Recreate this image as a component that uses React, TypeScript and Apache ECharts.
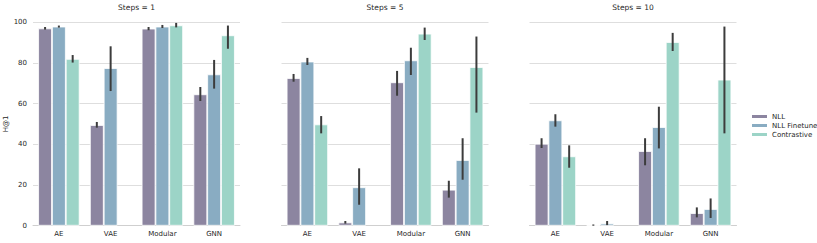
import React, { useEffect, useRef } from "react";
import * as echarts from "echarts";

const categories = ["AE", "VAE", "Modular", "GNN"];
const methods = ["NLL", "NLL Finetune", "Contrastive"];
const panelTitles = ["Steps = 1", "Steps = 5", "Steps = 10"];
const yTicks = [0, 20, 40, 60, 80, 100];

// Steps = 1
const nll1 = [97.0, 49.5, 96.9, 64.6];
const nll1Lo = [96.4, 48.2, 96.1, 61.3];
const nll1Hi = [97.7, 51.0, 97.7, 68.2];
const ft1 = [97.9, 77.5, 97.9, 74.4];
const ft1Lo = [97.4, 66.2, 97.2, 67.4];
const ft1Hi = [98.4, 88.2, 98.7, 81.5];
const con1 = [82.0, null, 98.5, 93.6];
const con1Lo = [80.2, null, 97.5, 87.0];
const con1Hi = [83.9, null, 99.7, 98.4];

// Steps = 5
const nll5 = [72.6, 1.6, 70.5, 17.7];
const nll5Lo = [70.8, 1.0, 63.9, 13.8];
const nll5Hi = [74.6, 2.3, 76.1, 22.1];
const ft5 = [80.7, 18.9, 81.3, 32.3];
const ft5Lo = [79.0, 10.3, 74.1, 22.6];
const ft5Hi = [82.5, 28.2, 87.5, 43.0];
const con5 = [49.8, null, 94.4, 78.0];
const con5Lo = [45.4, null, 91.3, 55.6];
const con5Hi = [53.9, null, 97.4, 93.0];

// Steps = 10
const nll10 = [40.3, 0.3, 36.7, 6.2];
const nll10Lo = [38.2, 0.0, 29.7, 4.1];
const nll10Hi = [43.0, 0.6, 43.0, 9.0];
const ft10 = [51.8, 1.1, 48.5, 8.2];
const ft10Lo = [48.7, 0.3, 38.0, 3.8];
const ft10Hi = [54.8, 2.3, 58.5, 13.4];
const con10 = [34.1, null, 90.3, 71.8];
const con10Lo = [28.5, null, 85.9, 45.4];
const con10Hi = [39.5, null, 94.8, 97.9];

const panels = [
  { means: [nll1, ft1, con1], lows: [nll1Lo, ft1Lo, con1Lo], highs: [nll1Hi, ft1Hi, con1Hi] },
  { means: [nll5, ft5, con5], lows: [nll5Lo, ft5Lo, con5Lo], highs: [nll5Hi, ft5Hi, con5Hi] },
  { means: [nll10, ft10, con10], lows: [nll10Lo, ft10Lo, con10Lo], highs: [nll10Hi, ft10Hi, con10Hi] },
];

const colors = ["#8c85a0", "#89acc2", "#9cd4c7"];
const FONT = "DejaVu Sans";
const gridLefts = [33, 281.5, 529.5];
const gridWidth = 207;
const gridTop = 22.3;
const gridHeight = 203.4;

export default function App() {
  const ref = useRef<HTMLDivElement>(null);

  useEffect(() => {
    if (!ref.current) return;
    const chart = echarts.init(ref.current, null, { renderer: "svg" });

    const grids = gridLefts.map((l) => ({ left: l, top: gridTop, width: gridWidth, height: gridHeight }));
    const xAxes = gridLefts.map((_, i) => ({
      type: "category",
      gridIndex: i,
      data: categories,
      axisLine: { show: true, lineStyle: { color: "#cfcfcf", width: 1 } },
      axisTick: { show: false },
      axisLabel: { color: "#262626", fontSize: 7, fontFamily: FONT, margin: 5 },
      splitLine: { show: false },
    }));
    const yAxes = gridLefts.map((_, i) => ({
      type: "value",
      gridIndex: i,
      min: yTicks[0],
      max: yTicks[yTicks.length - 1],
      interval: 20,
      name: i === 0 ? "H@1" : "",
      nameLocation: "middle",
      nameGap: 16,
      nameRotate: 90,
      nameTextStyle: { color: "#262626", fontSize: 7, fontFamily: FONT },
      axisLine: { show: false },
      axisTick: { show: false },
      axisLabel: { show: i === 0, color: "#262626", fontSize: 7, fontFamily: FONT, margin: 6 },
      splitLine: { show: true, lineStyle: { color: "#dedede", width: 1 } },
    }));

    const series: any[] = [];
    panels.forEach((p, gi) => {
      methods.forEach((m, mi) => {
        series.push({
          type: "bar",
          name: m,
          xAxisIndex: gi,
          yAxisIndex: gi,
          data: p.means[mi].map((v) => (v === null ? "-" : v)),
          barGap: "0%",
          barCategoryGap: "20%",
          itemStyle: { color: colors[mi], borderColor: "#ffffff", borderWidth: 0.8 },
          z: 2,
        });
      });
      const errData: any[] = [];
      methods.forEach((_, mi) => {
        categories.forEach((_, ci) => {
          const lo = p.lows[mi][ci];
          const hi = p.highs[mi][ci];
          if (lo !== null && hi !== null) errData.push([ci, mi, lo, hi]);
        });
      });
      series.push({
        type: "custom",
        name: "err",
        xAxisIndex: gi,
        yAxisIndex: gi,
        data: errData,
        encode: { x: 0, y: [2, 3] },
        z: 5,
        silent: true,
        renderItem: (params: any, api: any) => {
          const ci = api.value(0);
          const mi = api.value(1);
          const band = api.size([1, 0])[0];
          const bw = (band * 0.8) / 3;
          const c = api.coord([ci, api.value(2)]);
          const d = api.coord([ci, api.value(3)]);
          const x = c[0] + (mi - 1) * bw;
          return {
            type: "line",
            shape: { x1: x, y1: c[1], x2: x, y2: d[1] },
            style: { stroke: "#3c3c3c", lineWidth: 2 },
          };
        },
      });
    });

    const graphics = panelTitles.map((t, i) => ({
      type: "text",
      x: gridLefts[i] + gridWidth / 2,
      y: 7,
      style: {
        text: t,
        fill: "#262626",
        font: `7.5px "${FONT}"`,
        textAlign: "center",
        textVerticalAlign: "middle",
        align: "center",
        verticalAlign: "middle",
      },
    }));

    chart.setOption({
      animation: false,
      backgroundColor: "#ffffff",
      textStyle: { fontFamily: FONT },
      grid: grids,
      xAxis: xAxes,
      yAxis: yAxes,
      legend: {
        data: methods,
        orient: "vertical",
        left: 745,
        top: 108,
        itemWidth: 17,
        itemHeight: 5,
        itemGap: 2,
        icon: "rect",
        textStyle: { color: "#262626", fontSize: 7, fontFamily: FONT, padding: [0, 0, 0, -1] },
      },
      graphic: graphics,
      series,
    });

    return () => chart.dispose();
  }, []);

  return (
    <div
      ref={ref}
      style={{ position: "fixed", left: 0, top: 0, width: 817, height: 243 }}
    />
  );
}
